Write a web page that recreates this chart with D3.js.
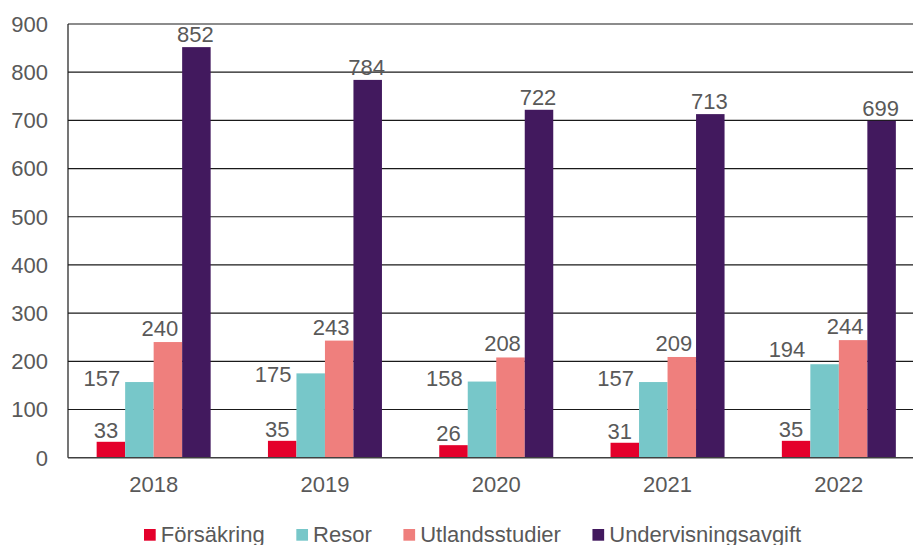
<!DOCTYPE html>
<html><head><meta charset="utf-8">
<script src="https://cdn.jsdelivr.net/npm/d3@7"></script>
<style>
html,body{margin:0;padding:0;background:#fff;}
svg{display:block;font-family:"Liberation Sans",Arial,sans-serif;}
</style></head>
<body><svg id="c" width="913" height="545"></svg>
<script>
const categories = ["2018","2019","2020","2021","2022"];
const seriesNames = ["Försäkring","Resor","Utlandsstudier","Undervisningsavgift"];
const forsakring = [33,35,26,31,35];
const resor = [157,175,158,157,194];
const utlandsstudier = [240,243,208,209,244];
const undervisningsavgift = [852,784,722,713,699];
const yTicks = [0,100,200,300,400,500,600,700,800,900];
const colors = ["#E4002B","#77C7C9","#EF7F7D","#42195E"];

(function(){
const values = [forsakring, resor, utlandsstudier, undervisningsavgift];
const svg = d3.select("#c");
const pLeft = 68, pRight = 924.5, pTop = 24, pBottom = 457.7;
const textColor = "#595959";
const fs = "22px";

const x = d3.scaleBand().domain(categories).range([pLeft, pRight]).paddingInner(0.3345).paddingOuter(0.3345/2);
const x1 = d3.scaleBand().domain(seriesNames).range([0, x.bandwidth()]);
const y = d3.scaleLinear().domain([0,900]).range([pBottom, pTop]);

svg.append("g").selectAll("line").data(yTicks.filter(d=>d>0)).join("line")
  .attr("x1", pLeft).attr("x2", 913).attr("y1", d=>y(d)).attr("y2", d=>y(d))
  .attr("stroke", "#1a1a1a").attr("stroke-width", 1.2);

svg.append("g").selectAll("text").data(yTicks).join("text")
  .attr("x", 48).attr("y", d=>y(d)).attr("dy","0.36em")
  .attr("text-anchor","end").attr("fill", textColor).style("font-size", fs)
  .text(d=>d);

const g = svg.append("g");
categories.forEach((c,i)=>{
  seriesNames.forEach((s,j)=>{
    const v = values[j][i];
    g.append("rect")
      .attr("x", x(c)+x1(s)).attr("width", x1.bandwidth())
      .attr("y", y(v)).attr("height", y(0)-y(v))
      .attr("fill", colors[j]);
  });
});

categories.forEach((c,i)=>{
  seriesNames.forEach((s,j)=>{
    const v = values[j][i];
    const bx = x(c)+x1(s), bw = x1.bandwidth();
    let tx, ty, anchor = "middle";
    if (j===1) {
      tx = bx - 5; ty = y(v) + 4; anchor = "end";
      // keep the label clear of a gridline it would cross
      const near = yTicks.find(t => t > 0 && y(t) < ty + 2 && y(t) > ty - 18);
      if (near !== undefined) {
        const gy = y(near);
        ty = (gy < ty - 9) ? gy + 21 : gy - 4;
      }
    }
    else if (j===0) { tx = bx + bw/2 - 5; ty = y(v) - 4; }
    else if (j===2) { tx = bx + bw/2 - 8; ty = y(v) - 6; }
    else { tx = bx + bw/2 - 1; ty = y(v) - 5; }
    svg.append("text").attr("x", tx).attr("y", ty).attr("text-anchor", anchor)
      .attr("fill", textColor).style("font-size", fs).text(v);
  });
});

svg.append("line").attr("x1", pLeft).attr("x2", pLeft).attr("y1", pTop).attr("y2", pBottom)
  .attr("stroke","#1a1a1a").attr("stroke-width",1.2);
svg.append("line").attr("x1", pLeft).attr("x2", 913).attr("y1", pBottom).attr("y2", pBottom)
  .attr("stroke","#404040").attr("stroke-width",1.5);

svg.append("g").selectAll("text").data(categories).join("text")
  .attr("x", d=>x(d)+x.bandwidth()/2).attr("y", 491.5)
  .attr("text-anchor","middle").attr("fill", textColor).style("font-size", fs)
  .text(d=>d);

let lx = 144;
const ly = 541.5;
seriesNames.forEach((s,j)=>{
  svg.append("rect").attr("x", lx).attr("y", 529).attr("width", 11.7).attr("height", 11.7).attr("fill", colors[j]);
  const t = svg.append("text").attr("x", lx+16.8).attr("y", ly).attr("fill", textColor).style("font-size", fs).text(s);
  lx = lx + 16.8 + t.node().getComputedTextLength() + 31.6;
});
})();
</script></body></html>
